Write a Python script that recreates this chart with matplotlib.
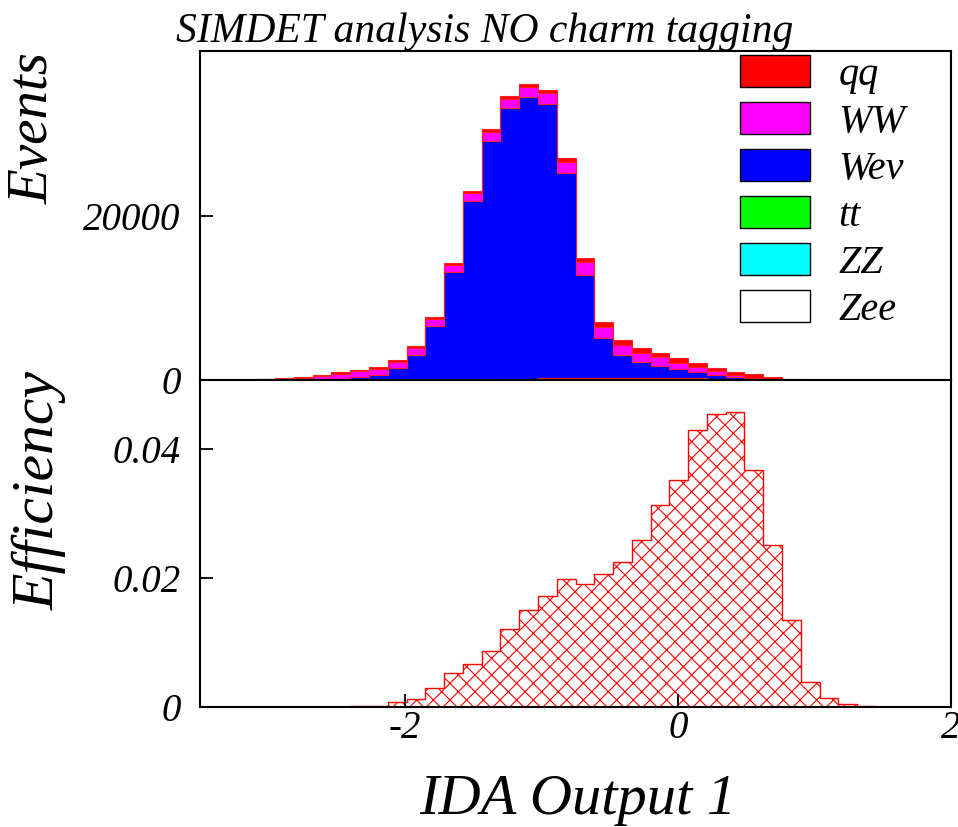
import numpy as np
import matplotlib
matplotlib.use('Agg')
import matplotlib.pyplot as plt
from matplotlib.patches import Patch

plt.rcParams['font.family'] = ['Liberation Serif', 'DejaVu Serif']
plt.rcParams['font.style'] = 'italic'
plt.rcParams['hatch.linewidth'] = 0.8

# 40 bins between -3.5 and 2
edges = np.linspace(-3.5, 2.0, 41)

# stacked background samples (events per bin)
zee = [0, 0, 0, 0, 0, 0, 0, 0, 0, 0, 5, 5, 10, 10, 10, 10, 10, 10, 5, 5,
       0, 0, 0, 0, 0, 0, 0, 0, 0, 0, 0, 0, 0, 0, 0, 0, 0, 0, 0, 0]
zz = [0, 0, 0, 0, 0, 0, 0, 0, 0, 0, 0, 0, 0, 0, 0, 0, 10, 15, 20, 20,
      25, 25, 25, 20, 15, 10, 5, 0, 0, 0, 0, 0, 0, 0, 0, 0, 0, 0, 0, 0]
tt = [0, 0, 0, 0, 0, 0, 0, 0, 0, 0, 0, 0, 10, 20, 30, 60, 100, 130, 160, 190,
      220, 240, 250, 250, 240, 220, 180, 130, 80, 40, 20, 0, 0, 0, 0, 0, 0, 0, 0, 0]
wenu = [10, 5, 5, 20, 40, 60, 80, 160, 370, 570, 1465, 3085, 6570, 13160, 21830, 29090, 33030, 34300, 33460, 25000,
        12590, 4870, 2780, 1970, 1460, 1110, 800, 520, 270, 160, 60, 20, 0, 0, 0, 0, 0, 0, 0, 0]
ww = [20, 15, 15, 60, 60, 140, 410, 610, 690, 810, 730, 780, 820, 780, 980, 1100, 1100, 1220, 1380, 1390,
      1540, 1380, 1260, 1010, 1050, 690, 560, 400, 300, 100, 40, 20, 0, 0, 0, 0, 0, 0, 0, 0]
qq = [20, 20, 20, 40, 140, 180, 170, 170, 140, 210, 240, 260, 240, 300, 230, 320, 330, 380, 350, 500,
      510, 590, 600, 600, 560, 610, 570, 400, 350, 390, 250, 120, 0, 0, 0, 0, 0, 0, 0, 0]

# signal efficiency per bin
eff = [0, 0, 0, 0, 0, 0, 0, 0, 0.00015, 0.0002, 0.0008, 0.0012, 0.0029, 0.0053, 0.0067, 0.0086, 0.0121, 0.015, 0.0171, 0.0198,
       0.019, 0.0206, 0.0224, 0.0258, 0.0312, 0.0352, 0.0428, 0.0454, 0.0456, 0.0366, 0.0251, 0.0135, 0.0038, 0.0014, 0.0005, 0.0001,
       0, 0, 0, 0]

# bottom to top
samples = ['Zee', 'ZZ', 'tt', 'Weν', 'WW', 'qq']
values = [zee, zz, tt, wenu, ww, qq]
colors = ['white', '#00ffff', '#00ff00', '#0000ff', '#ff00ff', '#ff0000']

W, H = 958, 827
fig = plt.figure(figsize=(W / 100, H / 100), dpi=100)
left, right = 200 / W, 951 / W
ax1 = fig.add_axes([left, 1 - 380 / H, right - left, 329 / H])
ax2 = fig.add_axes([left, 1 - 707 / H, right - left, 327 / H])

# cumulative stack, drawn from the top layer down
cum = np.cumsum(np.array(values, dtype=float), axis=0)
for i in range(len(samples) - 1, -1, -1):
    ax1.stairs(cum[i], edges, baseline=0, fill=True, facecolor=colors[i],
               edgecolor='none', zorder=2)
    ax1.stairs(cum[i], edges, baseline=0, fill=False, color='#ff2020',
               linewidth=0.8, zorder=2)

ax1.set_xlim(-3.5, 2.0)
ax1.set_ylim(0, 40100)
ax1.set_xticks([-2, 0])
ax1.set_xticklabels([])
ax1.set_yticks([0, 20000])
ax1.set_yticklabels(['0', '20000'])

ax2.stairs(eff, edges, baseline=0, fill=True, facecolor='none', edgecolor='red',
           hatch='xx', linewidth=1.0)
ax2.set_xlim(-3.5, 2.0)
ax2.set_ylim(0, 0.0506)
ax2.set_xticks([-2, 0, 2])
ax2.set_xticklabels(['-2', '0', '2'])
ax2.set_yticks([0, 0.02, 0.04])
ax2.set_yticklabels(['0', '0.02', '0.04'])

for ax in (ax1, ax2):
    ax.tick_params(direction='in', length=9.5, width=1.3, labelsize=28, pad=14,
                   top=False, right=False)
    ax.tick_params(axis='x', pad=2)
    for s in ax.spines.values():
        s.set_linewidth(1.5)
        s.set_zorder(5)

handles = [Patch(facecolor=colors[i], edgecolor='black', linewidth=1.0)
           for i in range(len(samples) - 1, -1, -1)]
labels = [samples[i] for i in range(len(samples) - 1, -1, -1)]
fig.legend(handles, labels, loc='upper left', bbox_to_anchor=(740 / W, 1 - 55 / H),
           frameon=False, fontsize=29, handlelength=1.75, handleheight=0.85,
           handletextpad=0.7, labelspacing=0.2, borderpad=0, borderaxespad=0)

fig.text(485 / W, 1 - 42 / H, 'SIMDET analysis NO charm tagging', fontsize=30,
         ha='center', va='baseline')
fig.text(34 / W, 1 - 128 / H, 'Events', fontsize=41, rotation=90,
         ha='center', va='center')
fig.text(40 / W, 1 - 491 / H, 'Efficiency', fontsize=43, rotation=90,
         ha='center', va='center')
fig.text(578 / W, 1 - 800 / H, 'IDA Output 1', fontsize=42,
         ha='center', va='center')

fig.savefig('out.png', dpi=100)
